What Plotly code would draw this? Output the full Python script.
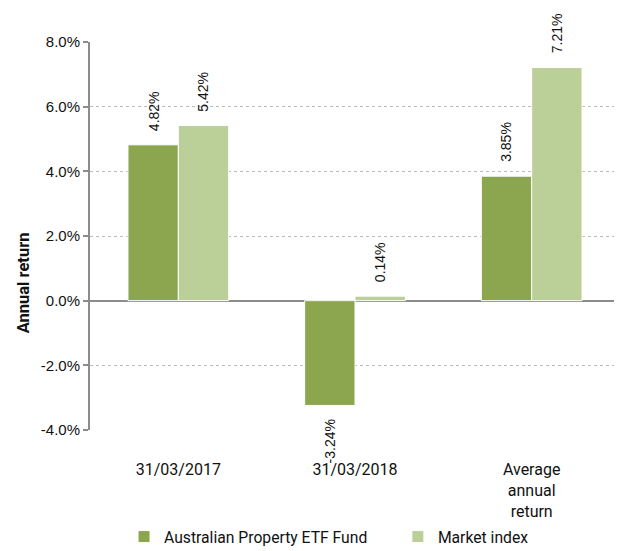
import plotly.graph_objects as go

categories = ["31/03/2017", "31/03/2018", "Average<br>annual<br>return"]
fund_values = [4.82, -3.24, 3.85]
market_values = [5.42, 0.14, 7.21]
series_names = ["Australian Property ETF Fund", "Market index"]
y_ticks = [-4, -2, 0, 2, 4, 6, 8]
y_tick_labels = ["-4.0%", "-2.0%", "0.0%", "2.0%", "4.0%", "6.0%", "8.0%"]

colors = ["#8BA64F", "#BBCF98"]

fig = go.Figure()
for name, vals, col, lg in zip(series_names, [fund_values, market_values], colors, ["legend", "legend2"]):
    fig.add_trace(go.Bar(
        x=categories, y=vals, name=name, legend=lg,
        marker=dict(color=col, line=dict(color="white", width=1)),
    ))

# data labels
for vals, shift in [(fund_values, -25), (market_values, 25)]:
    for c, v in zip(categories, vals):
        fig.add_annotation(
            x=c, y=v, xref="x", yref="y", xshift=shift,
            text=f"{v:.2f}%", textangle=-90, showarrow=False,
            yanchor="bottom" if v >= 0 else "top",
            yshift=12 if v >= 0 else -12,
            font=dict(family="Liberation Sans, Arial", size=14, color="#111"),
        )

fig.add_annotation(
    x=0, xref="paper", xanchor="center", xshift=-67,
    y=0.378, yref="paper", yanchor="middle",
    text="<b>Annual return</b>", textangle=-90, showarrow=False,
    font=dict(family="Roboto", size=16.5, color="#111"),
)

legend_common = dict(orientation="h", xref="container", yref="container",
                     xanchor="left", y=0.026, yanchor="middle",
                     font=dict(family="Roboto", size=15.7, color="#111"),
                     itemwidth=30, bgcolor="rgba(0,0,0,0)")

fig.update_layout(
    width=614, height=543,
    margin=dict(l=82, r=2, t=34, b=121, autoexpand=False),
    plot_bgcolor="white", paper_bgcolor="white",
    barmode="group", bargap=0.43, bargroupgap=0,
    showlegend=True,
    legend=dict(x=0.189, **legend_common),
    legend2=dict(x=0.635, **legend_common),
    xaxis=dict(showgrid=False, showline=False, ticks="", automargin=False,
               tickfont=dict(family="Roboto", size=16, color="#111"),
               ticklabelstandoff=28),
    yaxis=dict(range=[-4, 8], tickvals=y_ticks, ticktext=y_tick_labels, automargin=False,
               showgrid=True, gridcolor="#BBBBBB", griddash="dot", gridwidth=1,
               zeroline=True, zerolinecolor="#8C8C8C", zerolinewidth=2,
               showline=True, linecolor="#8C8C8C", linewidth=2,
               ticks="outside", ticklen=5, tickcolor="#8C8C8C", tickwidth=2,
               tickfont=dict(family="Liberation Sans, Arial", size=15, color="#111")),
)

fig.write_html("out.html")
